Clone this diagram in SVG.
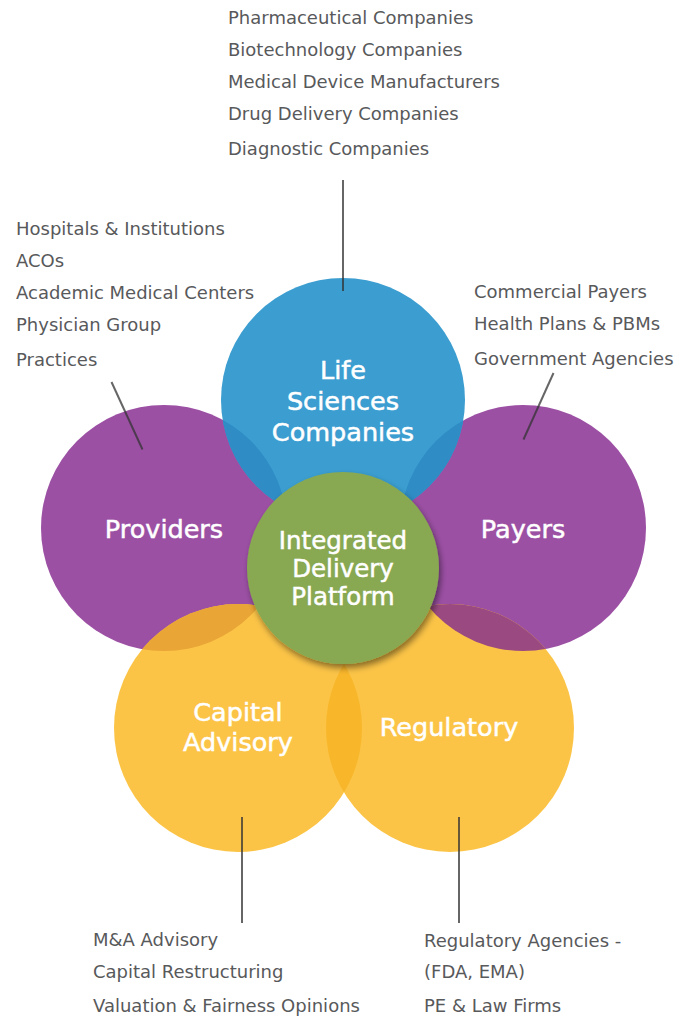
<svg xmlns="http://www.w3.org/2000/svg" width="681" height="1016" viewBox="0 0 681 1016">
<style>
.list{font-family:"DejaVu Sans","Liberation Sans",sans-serif;font-size:18px;fill:#58595b}
.lbl{font-family:"DejaVu Sans","Liberation Sans",sans-serif;font-size:25.5px;fill:#ffffff;stroke:#ffffff;stroke-width:0.5;text-anchor:middle}
.lbl2{font-family:"DejaVu Sans","Liberation Sans",sans-serif;font-size:24.5px;fill:#ffffff;stroke:#ffffff;stroke-width:0.5;text-anchor:middle}
.blue{fill:#3b9dd0}
.purple{fill:#9c50a4}
.yellow{fill:#fbc447}
.green{fill:#88a851}
.conn{stroke:#333333;stroke-opacity:0.75;stroke-width:2;fill:none}
</style>
<defs>
<clipPath id="cpProv"><circle cx="164" cy="528" r="123"/></clipPath>
<clipPath id="cpPay"><circle cx="523" cy="528" r="123"/></clipPath>
<clipPath id="cpCap"><circle cx="238" cy="728" r="124"/></clipPath>
<filter id="shadow" x="-20%" y="-20%" width="140%" height="140%">
<feGaussianBlur in="SourceAlpha" stdDeviation="3"/>
<feOffset dx="2" dy="4" result="b"/>
<feComponentTransfer><feFuncA type="linear" slope="0.45"/></feComponentTransfer>
<feMerge><feMergeNode/><feMergeNode in="SourceGraphic"/></feMerge>
</filter>
</defs>
<rect width="681" height="1016" fill="#ffffff"/>

<g id="providers">
<circle class="purple" cx="164" cy="528" r="123"/>
</g>
<g id="payers">
<circle class="purple" cx="523" cy="528" r="123"/>
</g>
<g id="regulatory">
<circle class="yellow" cx="450" cy="728" r="124"/>
</g>
<g id="capital-advisory">
<circle class="yellow" cx="238" cy="728" r="124"/>
</g>
<g id="life-sciences">
<circle class="blue" cx="343" cy="400" r="122"/>
</g>

<g id="overlaps">
<circle cx="343" cy="400" r="122" fill="#2f8cc5" clip-path="url(#cpProv)"/>
<circle cx="343" cy="400" r="122" fill="#2f8cc5" clip-path="url(#cpPay)"/>
<circle cx="238" cy="728" r="124" fill="#e9a536" clip-path="url(#cpProv)"/>
<circle cx="450" cy="728" r="124" fill="#9a4a80" clip-path="url(#cpPay)"/>
<circle cx="450" cy="728" r="124" fill="#f8b62b" clip-path="url(#cpCap)"/>
</g>

<g id="integrated-delivery-platform">
<circle class="green" cx="343" cy="568" r="96" filter="url(#shadow)"/>
<text class="lbl2"><tspan x="343" y="549">Integrated</tspan><tspan x="343" y="577">Delivery</tspan><tspan x="343" y="605">Platform</tspan></text>
</g>

<g id="labels">
<text class="lbl"><tspan x="343" y="379">Life</tspan><tspan x="343" y="410">Sciences</tspan><tspan x="343" y="441">Companies</tspan></text>
<text class="lbl" x="164" y="538">Providers</text>
<text class="lbl" x="523" y="538">Payers</text>
<text class="lbl"><tspan x="238" y="721">Capital</tspan><tspan x="238" y="751">Advisory</tspan></text>
<text class="lbl" x="449" y="736">Regulatory</text>
</g>

<g id="connectors">
<line class="conn" x1="343" y1="180" x2="343" y2="291"/>
<line class="conn" x1="111.5" y1="382" x2="142.5" y2="449.5"/>
<line class="conn" x1="553.5" y1="373" x2="523.5" y2="439.5"/>
<line class="conn" x1="242" y1="817" x2="242" y2="923"/>
<line class="conn" x1="459" y1="817" x2="459" y2="923"/>
</g>

<g id="life-sciences-list">
<text class="list" x="228" y="24">Pharmaceutical Companies</text>
<text class="list" x="228" y="56">Biotechnology Companies</text>
<text class="list" x="228" y="88">Medical Device Manufacturers</text>
<text class="list" x="228" y="120">Drug Delivery Companies</text>
<text class="list" x="228" y="155">Diagnostic Companies</text>
</g>
<g id="providers-list">
<text class="list" x="16" y="235">Hospitals &amp; Institutions</text>
<text class="list" x="16" y="267">ACOs</text>
<text class="list" x="16" y="299">Academic Medical Centers</text>
<text class="list" x="16" y="331">Physician Group</text>
<text class="list" x="16" y="366">Practices</text>
</g>
<g id="payers-list">
<text class="list" x="474" y="298">Commercial Payers</text>
<text class="list" x="474" y="330">Health Plans &amp; PBMs</text>
<text class="list" x="474" y="365">Government Agencies</text>
</g>
<g id="capital-list">
<text class="list" x="93" y="946">M&amp;A Advisory</text>
<text class="list" x="93" y="978">Capital Restructuring</text>
<text class="list" x="93" y="1012">Valuation &amp; Fairness Opinions</text>
</g>
<g id="regulatory-list">
<text class="list" x="424" y="947">Regulatory Agencies -</text>
<text class="list" x="424" y="978">(FDA, EMA)</text>
<text class="list" x="424" y="1012">PE &amp; Law Firms</text>
</g>
</svg>
